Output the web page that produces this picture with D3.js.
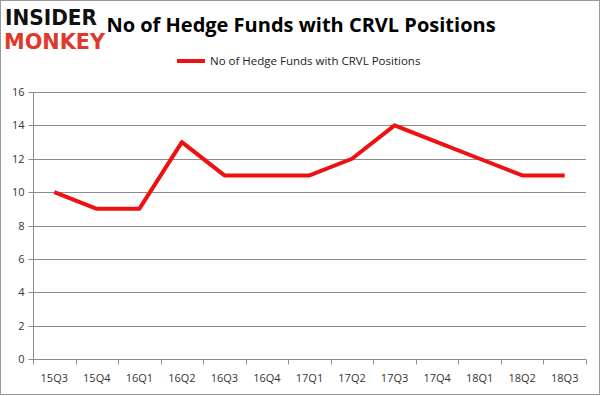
<!DOCTYPE html>
<html><head><meta charset="utf-8">
<script src="https://cdn.jsdelivr.net/npm/d3@7/dist/d3.min.js"></script>
<style>body{margin:0;background:#fff}svg{display:block}</style>
</head><body><svg id="c" width="601" height="396"></svg>
<script>
const quarters = ["15Q3","15Q4","16Q1","16Q2","16Q3","16Q4","17Q1","17Q2","17Q3","17Q4","18Q1","18Q2","18Q3"];
const funds = [10,9,9,13,11,11,11,12,14,13,12,11,11];
const yTicks = [0,2,4,6,8,10,12,14,16];
const seriesName = "No of Hedge Funds with CRVL Positions";
const titleText = "No of Hedge Funds with CRVL Positions";

const svg = d3.select("#c");
const font = "'Open Sans', 'Liberation Sans', Arial, sans-serif";
svg.append("rect").attr("x",0.5).attr("y",0.5).attr("width",599).attr("height",394)
  .attr("fill","#fff").attr("stroke","#9a9a9a");

const x = d3.scaleBand().domain(quarters).range([33,586]);
const y = d3.scaleLinear().domain([0,16]).range([359,92]);

// grid
svg.append("g").selectAll("line").data(yTicks).join("line")
  .attr("x1",33).attr("x2",586)
  .attr("y1",d=>Math.round(y(d))+0.5).attr("y2",d=>Math.round(y(d))+0.5)
  .attr("stroke","#8c8c8c").attr("stroke-width",1);

// y axis
const ya = svg.append("g").attr("transform","translate(33.5,0)")
  .call(d3.axisLeft(y).tickValues(yTicks).tickSize(5).tickPadding(4).tickFormat(d3.format("d")));
ya.select(".domain").attr("stroke","#8c8c8c").attr("d","M0,"+y(0)+"V"+y(16));
ya.selectAll(".tick line").attr("stroke","#8c8c8c");
ya.selectAll("text").attr("font-family",font).attr("font-size",11).attr("fill","#333");
ya.selectAll(".tick").attr("transform",d=>"translate(0,"+(Math.round(y(d))+0.5)+")");

// x axis
const xa = svg.append("g").attr("transform","translate(0,"+(Math.round(y(0))+0.5)+")");
xa.append("line").attr("x1",33).attr("x2",586).attr("stroke","#8c8c8c");
const bounds = quarters.map(q=>x(q)).concat([x.range()[1]]);
xa.selectAll("line.t").data(bounds).join("line").attr("class","t")
  .attr("x1",d=>Math.round(d)+0.5).attr("x2",d=>Math.round(d)+0.5).attr("y1",0).attr("y2",5)
  .attr("stroke","#8c8c8c");
xa.selectAll("text").data(quarters).join("text")
  .attr("x",d=>x(d)+x.bandwidth()/2).attr("y",22)
  .attr("text-anchor","middle").attr("font-family",font).attr("font-size",11).attr("fill","#333")
  .text(d=>d);

// line
const line = d3.line().x((d,i)=>x(quarters[i])+x.bandwidth()/2).y(d=>y(d));
svg.append("path").datum(funds).attr("d",line).attr("fill","none")
  .attr("stroke","#ee1111").attr("stroke-width",4).attr("stroke-linejoin","round");

// title
svg.append("text").attr("x",301).attr("y",32).attr("text-anchor","middle")
  .attr("font-family",font).attr("font-weight","bold").attr("font-size",20).attr("fill","#000")
  .text(titleText);

// legend
svg.append("line").attr("x1",177).attr("x2",205).attr("y1",61).attr("y2",61)
  .attr("stroke","#ee1111").attr("stroke-width",4);
svg.append("text").attr("x",210).attr("y",65).attr("font-family",font).attr("font-size",11.5)
  .attr("fill","#222").text(seriesName);

// logo
svg.append("text").attr("x",5).attr("y",25).attr("font-family","'DejaVu Sans', sans-serif")
  .attr("font-weight","bold").attr("font-size",22).attr("fill","#111")
  .attr("textLength",92).attr("lengthAdjust","spacingAndGlyphs").text("INSIDER");
svg.append("text").attr("x",4).attr("y",49).attr("font-family","'DejaVu Sans', sans-serif")
  .attr("font-weight","bold").attr("font-size",22).attr("fill","#e0392b")
  .attr("textLength",101).attr("lengthAdjust","spacingAndGlyphs").text("MONKEY");
</script></body></html>
